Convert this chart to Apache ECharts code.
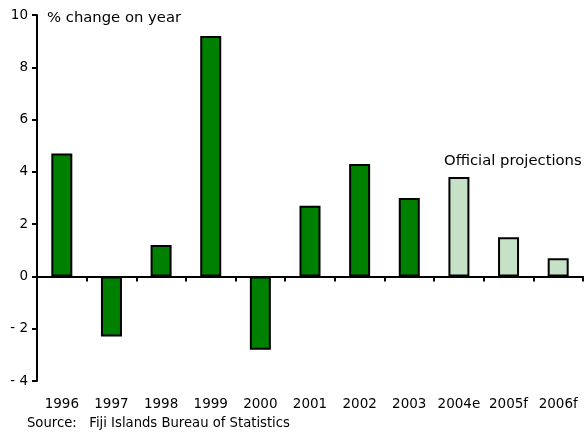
<!DOCTYPE html>
<html>
<head>
<meta charset="utf-8">
<script src="https://cdn.jsdelivr.net/npm/echarts@6/dist/echarts.min.js"></script>
<style>
  html, body { margin: 0; padding: 0; background: #fff; }
  #chart { width: 585px; height: 434px; }
</style>
</head>
<body>
<div id="chart"></div>
<script>
// Fiji real GDP growth, % change on year
const years = ['1996', '1997', '1998', '1999', '2000', '2001', '2002', '2003', '2004e', '2005f', '2006f'];
const growth = [4.7, -2.3, 1.2, 9.2, -2.8, 2.7, 4.3, 3.0, 3.8, 1.5, 0.7];
const isProjection = [false, false, false, false, false, false, false, false, true, true, true];
const yTicks = { min: -4, max: 10, step: 2 };

const FONT = 'DejaVu Sans';
const actualColor = '#008000';
const projectionColor = '#c6e2c6';

const chart = echarts.init(document.getElementById('chart'), null, { renderer: 'canvas' });

chart.setOption({
  animation: false,
  backgroundColor: '#ffffff',
  textStyle: { fontFamily: FONT },
  grid: { left: 37, right: 2, top: 15, bottom: 53, containLabel: false },
  xAxis: [
    {
      type: 'category',
      data: years,
      axisLine: { onZero: true, lineStyle: { color: '#000', width: 2 } },
      axisTick: { show: true, inside: false, length: 5, lineStyle: { color: '#000', width: 2 } },
      axisLabel: { show: false },
      splitLine: { show: false }
    },
    {
      type: 'category',
      data: years,
      position: 'bottom',
      axisLine: { show: false, onZero: false },
      axisTick: { show: false },
      axisLabel: { show: true, margin: 16, color: '#000', fontSize: 13.5, fontFamily: FONT, interval: 0 },
      splitLine: { show: false }
    }
  ],
  yAxis: {
    type: 'value',
    min: yTicks.min,
    max: yTicks.max,
    interval: yTicks.step,
    axisLine: { show: true, lineStyle: { color: '#000', width: 2 } },
    axisTick: { show: true, inside: false, length: 5, lineStyle: { color: '#000', width: 2 } },
    axisLabel: {
      color: '#000', fontSize: 13.5, fontFamily: FONT, margin: 9,
      formatter: v => (v < 0 ? '- ' + Math.abs(v) : String(v))
    },
    splitLine: { show: false }
  },
  series: [
    {
      type: 'bar',
      xAxisIndex: 0,
      barWidth: 21,
      data: growth.map((v, i) => ({
        value: v,
        itemStyle: { color: isProjection[i] ? projectionColor : actualColor }
      })),
      itemStyle: { borderColor: '#000', borderWidth: 2 }
    }
  ],
  graphic: [
    {
      type: 'text', left: 47, top: 11,
      style: { text: '% change on year', font: '14.8px "DejaVu Sans"', fill: '#000' }
    },
    {
      type: 'text', left: 444, top: 154,
      style: { text: 'Official projections', font: '14.8px "DejaVu Sans"', fill: '#000' }
    },
    {
      type: 'text', left: 27, top: 417,
      style: { text: 'Source:   Fiji Islands Bureau of Statistics', font: '13.2px "DejaVu Sans"', fill: '#000' }
    }
  ]
});
</script>
</body>
</html>
